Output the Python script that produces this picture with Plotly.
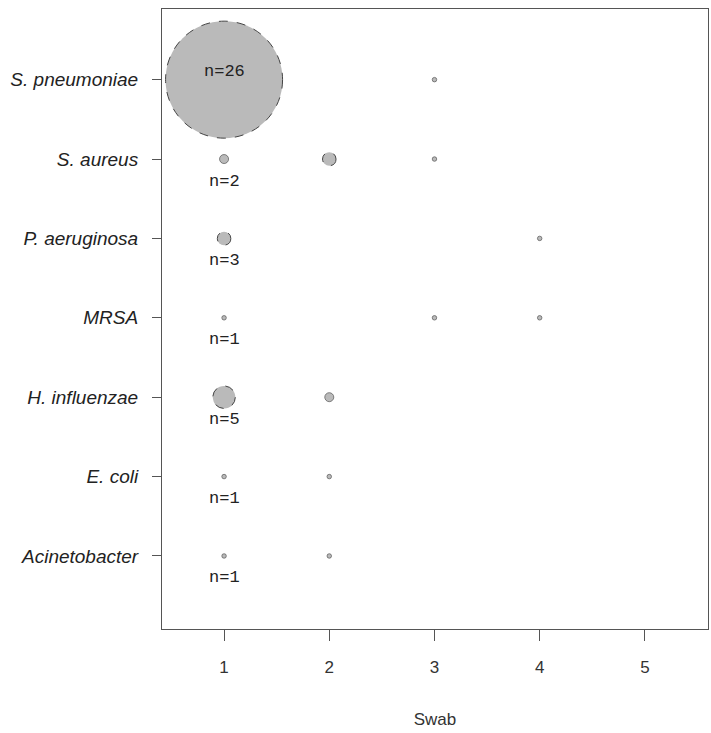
import plotly.graph_objects as go

organisms = ["S. pneumoniae", "S. pneumoniae",
             "S. aureus", "S. aureus", "S. aureus",
             "P. aeruginosa", "P. aeruginosa",
             "MRSA", "MRSA", "MRSA",
             "H. influenzae", "H. influenzae",
             "E. coli", "E. coli",
             "Acinetobacter", "Acinetobacter"]
swabs = [1, 3,
         1, 2, 3,
         1, 4,
         1, 3, 4,
         1, 2,
         1, 2,
         1, 2]
counts = [26, 1,
          2, 3, 1,
          3, 1,
          1, 1, 1,
          5, 2,
          1, 1,
          1, 1]

category_order = ["Acinetobacter", "E. coli", "H. influenzae", "MRSA",
                  "P. aeruginosa", "S. aureus", "S. pneumoniae"]
x_ticks = [1, 2, 3, 4, 5]

label_orgs = ["S. pneumoniae", "S. aureus", "P. aeruginosa", "MRSA",
              "H. influenzae", "E. coli", "Acinetobacter"]
label_counts = [26, 2, 3, 1, 5, 1, 1]

PX_PER_COUNT = 4.5
DASH_MIN = 3  # counts at or above this get a dashed outline

fig = go.Figure()
fig.add_trace(go.Scatter(
    x=swabs, y=organisms, mode="markers",
    marker=dict(size=[PX_PER_COUNT * c for c in counts], sizemode="diameter",
                color="#bababa", opacity=1,
                line=dict(color="#555555",
                          width=[0 if c >= DASH_MIN else 0.7 for c in counts])),
    hoverinfo="skip", showlegend=False))

# dashed outlines drawn on the same data coordinates (pixel-sized around each point)
for sx, org, c in zip(swabs, organisms, counts):
    if c < DASH_MIN:
        continue
    r = PX_PER_COUNT * c / 2
    fig.add_shape(type="circle", xref="x", yref="y",
                  xsizemode="pixel", ysizemode="pixel",
                  xanchor=sx, yanchor=category_order.index(org),
                  x0=-r, x1=r, y0=-r, y1=r,
                  line=dict(color="#444444", width=1, dash="dash"),
                  layer="above")

for org, n in zip(label_orgs, label_counts):
    big = n >= 10
    fig.add_annotation(x=1, y=org, text=f"n={n}", showarrow=False,
                       yshift=8 if big else -22,
                       font=dict(family="Liberation Mono", size=17, color="#222222"))

fig.update_layout(
    width=711, height=733,
    margin=dict(l=162, r=3, t=9, b=104),
    paper_bgcolor="white", plot_bgcolor="white",
    xaxis=dict(range=[0.41, 5.6], tickvals=x_ticks, ticks="outside", ticklen=11,
               tickcolor="#555555", showgrid=False, zeroline=False,
               showline=True, linecolor="#555555", linewidth=1, mirror=True,
               ticklabelstandoff=12,
               tickfont=dict(family="Liberation Sans", size=17, color="#333333"),
               title=dict(text="Swab", standoff=36,
                          font=dict(family="Liberation Sans", size=17, color="#333333"))),
    yaxis=dict(type="category", categoryorder="array", categoryarray=category_order,
               range=[-0.92, 6.89], ticks="outside", ticklen=9, tickcolor="#555555",
               showgrid=False, zeroline=False,
               showline=True, linecolor="#555555", linewidth=1, mirror=True,
               ticklabelstandoff=10,
               tickfont=dict(family="Liberation Sans", size=19, color="#222222",
                             style="italic")),
)

fig.write_html("out.html", config={"displayModeBar": False},
               post_script="document.body.style.margin='0';")
